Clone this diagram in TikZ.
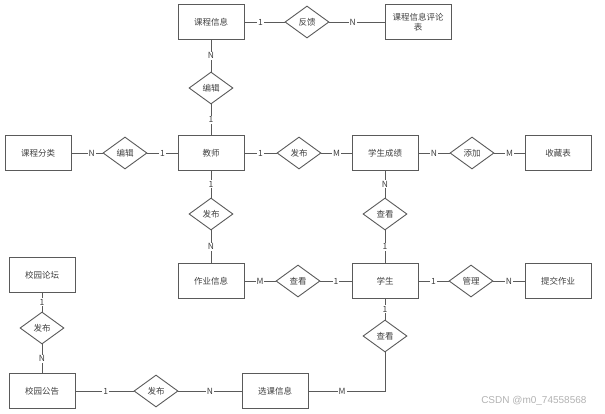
\documentclass[tikz,border=0pt]{standalone}
\usepackage{fontspec}
\newfontfamily\cjk{Noto Sans CJK SC}
\usetikzlibrary{shapes.geometric}
\definecolor{ln}{HTML}{5A5A5A}
\definecolor{tx}{HTML}{404040}
\tikzset{
  ent/.style={draw=ln, line width=0.9pt, minimum width=66pt, minimum height=35pt, inner sep=1pt, font=\cjk\fontsize{8.5}{10}\selectfont, text=tx, align=center},
  rel/.style={draw=ln, line width=0.9pt, diamond, minimum width=44pt, minimum height=32pt, inner sep=0pt, font=\cjk\fontsize{8.5}{10}\selectfont, text=tx},
  conn/.style={draw=ln, line width=0.9pt},
  card/.style={fill=white, inner sep=1pt, font=\cjk\fontsize{8.5}{10}\selectfont, text=tx}
}
\begin{document}
\begin{tikzpicture}[x=1pt,y=-1pt]
\useasboundingbox (0,0) rectangle (605,413);
% entities
\node[ent] (kcxx) at (211,22) {课程信息};
\node[ent] (pl) at (418,22) {课程信息评论\\表};
\node[ent] (fl) at (38,153) {课程分类};
\node[ent] (js) at (211,153) {教师};
\node[ent] (cj) at (385,153) {学生成绩};
\node[ent] (sc) at (558,153) {收藏表};
\node[ent] (zy) at (211,281) {作业信息};
\node[ent] (xs) at (385,281) {学生};
\node[ent] (tj) at (558,281) {提交作业};
\node[ent] (lt) at (42,275) {校园论坛};
\node[ent] (gg) at (42,391) {校园公告};
\node[ent] (xk) at (275,391) {选课信息};
% relations
\node[rel] (fk) at (307,22) {反馈};
\node[rel] (bj1) at (211,88) {编辑};
\node[rel] (bj2) at (125,153) {编辑};
\node[rel] (fb1) at (299,153) {发布};
\node[rel] (tjia) at (472,153) {添加};
\node[rel] (fb2) at (211,214) {发布};
\node[rel] (ck1) at (385,214) {查看};
\node[rel] (ck2) at (298,281) {查看};
\node[rel] (gl) at (471,281) {管理};
\node[rel] (ck3) at (385,336) {查看};
\node[rel] (fb3) at (42,328) {发布};
\node[rel] (fb4) at (156,391) {发布};
\coordinate (corner) at (385,391);
% connectors
\draw[conn] (kcxx) -- node[card,pos=0.4]{1} (fk);
\draw[conn] (fk) -- node[card,pos=0.42]{N} (pl);
\draw[conn] (kcxx) -- node[card]{N} (bj1);
\draw[conn] (bj1) -- node[card]{1} (js);
\draw[conn] (fl) -- node[card,pos=0.65]{N} (bj2);
\draw[conn] (bj2) -- node[card]{1} (js);
\draw[conn] (js) -- node[card]{1} (fb1);
\draw[conn] (fb1) -- node[card]{M} (cj);
\draw[conn] (cj) -- node[card]{N} (tjia);
\draw[conn] (tjia) -- node[card]{M} (sc);
\draw[conn] (js) -- node[card]{1} (fb2);
\draw[conn] (fb2) -- node[card]{N} (zy);
\draw[conn] (cj) -- node[card]{N} (ck1);
\draw[conn] (ck1) -- node[card]{1} (xs);
\draw[conn] (zy) -- node[card]{M} (ck2);
\draw[conn] (ck2) -- node[card]{1} (xs);
\draw[conn] (xs) -- node[card]{1} (gl);
\draw[conn] (gl) -- node[card]{N} (tj);
\draw[conn] (xs) -- node[card]{1} (ck3);
\draw[conn] (ck3) -- (corner) -- node[card,pos=0.56]{M} (xk);
\draw[conn] (lt) -- node[card]{1} (fb3);
\draw[conn] (fb3) -- node[card]{N} (gg);
\draw[conn] (gg) -- node[card,pos=0.52]{1} (fb4);
\draw[conn] (fb4) -- node[card]{N} (xk);
% watermark
\node[font=\fontspec{Liberation Sans}\fontsize{10}{11}\selectfont, text=black!30, anchor=east] (wm) at (590,401) {CSDN @m0\_74558568};
\end{tikzpicture}
\end{document}
